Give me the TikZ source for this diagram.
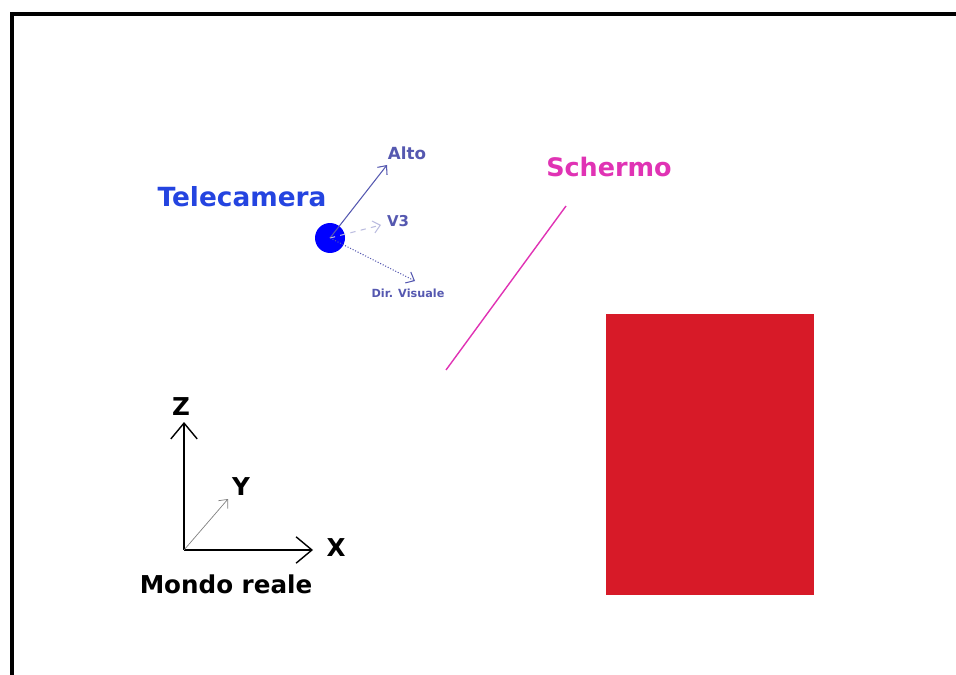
\documentclass[tikz,border=0pt]{standalone}
\usepackage{fontspec}
\setmainfont{DejaVu Sans}
\usetikzlibrary{arrows.meta}
\definecolor{camblue}{HTML}{2444E0}
\definecolor{vecblue}{HTML}{5558B0}
\definecolor{screenpink}{HTML}{E033B4}
\definecolor{objred}{HTML}{D71A28}

\begin{document}
\begin{tikzpicture}[
    x=0.02cm, y=-0.02cm,
    lbl/.style={font=\bfseries, inner sep=0pt},
    axis/.style={thick, -{Straight Barb[length=9pt, width=15pt]}},
    vec/.style={vecblue, line width=0.6pt, -{Straight Barb[length=4pt, width=7pt]}},
]
    \useasboundingbox (0, 0) rectangle (956, 675);

    % Frame (open on right and bottom)
    \draw[line width=2.8pt] (12, 675) -- (12, 14) -- (956, 14);

    % Camera
    \node[circle, fill=blue, minimum size=0.6cm, inner sep=0pt] (cam) at (330, 238) {};
    \node[lbl, font=\bfseries\fontsize{15}{17}\selectfont, color=camblue] (camlbl) at (242, 197) {Telecamera};

    % Camera vectors
    \coordinate (alto) at (387, 165);
    \coordinate (vtre) at (381, 225);
    \coordinate (dir) at (415, 281);
    \draw[vec] (cam.center) -- (alto);
    \draw[vec, dashed, vecblue!40] (cam.center) -- (vtre);
    \draw[vec, densely dotted] (cam.center) -- (dir);
    \node[lbl, font=\bfseries\fontsize{9.5}{11}\selectfont, color=vecblue] (altolbl) at (407, 153) {Alto};
    \node[lbl, font=\bfseries\fontsize{8.5}{10}\selectfont, color=vecblue] (vtrelbl) at (398, 221) {V3};
    \node[lbl, font=\bfseries\fontsize{6.4}{7}\selectfont, color=vecblue] (dirlbl) at (408, 293) {Dir. Visuale};

    % Screen
    \coordinate (scrtop) at (566, 206);
    \coordinate (scrbot) at (446, 370);
    \draw[screenpink, line width=0.8pt] (scrbot) -- (scrtop);
    \node[lbl, font=\bfseries\fontsize{14.5}{17}\selectfont, color=screenpink] (scrlbl) at (609, 167) {Schermo};

    % Object
    \fill[objred] (606, 314) rectangle (814, 595);

    % World axes
    \coordinate (orig) at (184, 550);
    \coordinate (zend) at (184, 422);
    \coordinate (xend) at (313, 550);
    \coordinate (yend) at (228, 499);
    \draw[axis] (orig) -- (zend);
    \draw[axis] (orig) -- (xend);
    \draw[thin, gray, -{Straight Barb[length=4pt, width=7pt]}] (orig) -- (yend);
    \node[lbl, font=\bfseries\fontsize{14}{16}\selectfont] (zlbl) at (181, 407) {Z};
    \node[lbl, font=\bfseries\fontsize{14}{16}\selectfont] (xlbl) at (336, 548) {X};
    \node[lbl, font=\bfseries\fontsize{14}{16}\selectfont] (ylbl) at (241, 487) {Y};
    \node[lbl, font=\bfseries\fontsize{14}{16}\selectfont] (worldlbl) at (226, 584) {Mondo reale};
\end{tikzpicture}
\end{document}
